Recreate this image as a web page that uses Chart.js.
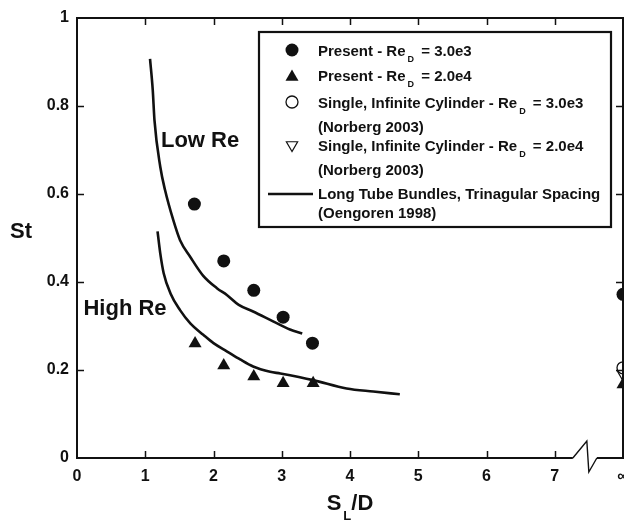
<!DOCTYPE html>
<html>
<head>
<meta charset="utf-8">
<script src="https://cdn.jsdelivr.net/npm/chart.js@4/dist/chart.umd.min.js"></script>
<style>
    html, body { margin: 0; padding: 0; background: #fff; }
    #wrap { width: 624px; height: 521px; }
</style>
</head>
<body>
<div id="wrap"><canvas id="chart" width="624" height="521"></canvas></div>
<script>
const FONT = "Arial, 'Liberation Sans', Helvetica, sans-serif";
const INK = '#111';

// tick labels (∞ is drawn at x = 8)
const xTickLabels = ['0', '1', '2', '3', '4', '5', '6', '7', '∞'];
const yTickLabels = ['0', '0.2', '0.4', '0.6', '0.8', '1'];

// present measurements, Re_D = 3.0e3 (last point = single cylinder at ∞)
const presentLowX = [1.72, 2.15, 2.59, 3.02, 3.45, 8];
const presentLowSt = [0.577, 0.448, 0.381, 0.320, 0.261, 0.372];

// present measurements, Re_D = 2.0e4
const presentHighX = [1.73, 2.15, 2.59, 3.02, 3.46, 8];
const presentHighSt = [0.26, 0.21, 0.185, 0.17, 0.17, 0.167];

// Norberg 2003, single infinite cylinder
const norbergLowX = [8];
const norbergLowSt = [0.205];
const norbergHighX = [8];
const norbergHighSt = [0.19];

// Oengoren 1998, long tube bundles (low Re curve)
const bundleLowX = [1.07, 1.11, 1.135, 1.22, 1.29, 1.41, 1.51, 1.66, 1.85, 2.05, 2.2, 2.37, 2.58, 2.88, 3.12, 3.3];
const bundleLowSt = [0.907, 0.836, 0.768, 0.662, 0.609, 0.541, 0.495, 0.457, 0.414, 0.386, 0.37, 0.348, 0.333, 0.31, 0.292, 0.283];

// Oengoren 1998, long tube bundles (high Re curve)
const bundleHighX = [1.18, 1.22, 1.27, 1.37, 1.51, 1.66, 1.85, 2.0, 2.2, 2.39, 2.58, 2.83, 2.98, 3.46, 3.95, 4.34, 4.73];
const bundleHighSt = [0.515, 0.465, 0.42, 0.374, 0.336, 0.306, 0.28, 0.261, 0.242, 0.224, 0.208, 0.196, 0.192, 0.177, 0.158, 0.151, 0.145];

const toPoints = (xs, ys) => xs.map((x, i) => ({ x: x, y: ys[i] }));

/** text with "_X" subscripts */
function drawSubText(ctx, text, x, y, o) {
    const parts = text.split(/_(\w)/);
    let cx = x;
    parts.forEach((p, i) => {
        if (i % 2 === 0) {
            ctx.font = `bold ${o.size}px ${FONT}`;
            ctx.fillText(p, cx, y);
            cx += ctx.measureText(p).width;
        } else {
            ctx.font = `bold ${o.subSize}px ${FONT}`;
            cx += o.gapBefore;
            ctx.fillText(p, cx, y + o.subDrop);
            cx += ctx.measureText(p).width + o.gapAfter;
        }
    });
    return cx - x;
}

function drawMarker(ctx, ds, x, y) {
    ctx.save();
    ctx.fillStyle = ds.backgroundColor;
    ctx.strokeStyle = ds.borderColor;
    ctx.lineWidth = ds.borderWidth || 0;
    if (ds.showLine) {
        ctx.lineWidth = ds.borderWidth;
        ctx.beginPath();
        ctx.moveTo(x - 24, y);
        ctx.lineTo(x + 21, y);
        ctx.stroke();
    } else {
        Chart.helpers.drawPoint(ctx, {
            pointStyle: ds.pointStyle,
            radius: ds.pointRadius,
            rotation: ds.rotation || 0,
            borderWidth: ds.borderWidth || 0,
        }, x, y);
    }
    ctx.restore();
}

/** frame with inward ticks, axis break and titles */
const framePlugin = {
    id: 'frame',
    afterDatasetsDraw(chart, args, opts) {
        const { ctx, chartArea: a, scales: { x, y } } = chart;
        ctx.save();
        ctx.strokeStyle = INK;
        ctx.lineCap = 'butt';
        ctx.lineJoin = 'miter';

        // inward ticks
        ctx.lineWidth = 1.5;
        ctx.beginPath();
        x.ticks.forEach(t => {
            if (t.value <= 0 || t.value >= 8) return;
            const px = Math.round(x.getPixelForValue(t.value)) + 0.5;
            ctx.moveTo(px, a.bottom); ctx.lineTo(px, a.bottom - 7);
            ctx.moveTo(px, a.top); ctx.lineTo(px, a.top + 7);
        });
        y.ticks.forEach(t => {
            if (t.value <= 0 || t.value >= 1) return;
            const py = Math.round(y.getPixelForValue(t.value)) + 0.5;
            ctx.moveTo(a.left, py); ctx.lineTo(a.left + 7, py);
            ctx.moveTo(a.right, py); ctx.lineTo(a.right - 7, py);
        });
        ctx.stroke();

        // box, bottom edge broken before ∞
        const b0 = x.getPixelForValue(opts.breakFrom);
        const b1 = x.getPixelForValue(opts.breakTo);
        ctx.lineWidth = 2;
        ctx.beginPath();
        ctx.moveTo(b0, a.bottom);
        ctx.lineTo(a.left, a.bottom);
        ctx.lineTo(a.left, a.top);
        ctx.lineTo(a.right, a.top);
        ctx.lineTo(a.right, a.bottom);
        ctx.lineTo(b1, a.bottom);
        ctx.stroke();
        ctx.lineWidth = 1.4;
        ctx.beginPath();
        ctx.moveTo(b0, a.bottom);
        ctx.lineTo(b0 + 14, a.bottom - 17);
        ctx.lineTo(b0 + 16, a.bottom + 14);
        ctx.lineTo(b1, a.bottom);
        ctx.stroke();

        // curve labels
        ctx.fillStyle = INK;
        ctx.textBaseline = 'alphabetic';
        ctx.font = `bold 22px ${FONT}`;
        opts.notes.forEach(n => {
            ctx.fillText(n.text, x.getPixelForValue(n.x), y.getPixelForValue(n.y));
        });

        // axis titles
        ctx.fillText('St', 10, 238);
        const tOpt = { size: 22, subSize: 13, subDrop: 10, gapBefore: 2, gapAfter: 0 };
        const off = document.createElement('canvas').getContext('2d');
        const w = drawSubText(off, 'S_L/D', 0, 0, tOpt);
        drawSubText(ctx, 'S_L/D', (a.left + a.right) / 2 - w / 2, 510, tOpt);
        ctx.restore();
    },
};

/** boxed legend built from dataset labels */
const boxLegend = {
    id: 'boxLegend',
    afterDraw(chart, args, opts) {
        const { ctx } = chart;
        const b = opts.box;
        ctx.save();
        ctx.fillStyle = '#fff';
        ctx.fillRect(b.left, b.top, b.right - b.left, b.bottom - b.top);
        ctx.strokeStyle = INK;
        ctx.lineWidth = 2.2;
        ctx.strokeRect(b.left, b.top, b.right - b.left, b.bottom - b.top);

        const tOpt = { size: 15, subSize: 9, subDrop: 6, gapBefore: 2, gapAfter: 3 };
        let row = 0;
        chart.data.datasets.forEach(ds => {
            if (ds.noLegend) return;
            const lines = ds.label.split('\n');
            drawMarker(ctx, ds, opts.markerX, opts.markerY[row]);
            ctx.fillStyle = INK;
            ctx.textBaseline = 'alphabetic';
            lines.forEach((ln, k) => {
                drawSubText(ctx, ln, opts.textX, opts.baselines[row][k], tOpt);
            });
            row++;
        });
        ctx.restore();
    },
};

new Chart(document.getElementById('chart'), {
    type: 'scatter',
    data: {
        datasets: [
            {
                label: 'Present - Re_D = 3.0e3',
                data: toPoints(presentLowX, presentLowSt),
                pointStyle: 'circle',
                pointRadius: 6.5,
                backgroundColor: INK,
                borderColor: INK,
                borderWidth: 0,
                clip: 0,
            },
            {
                label: 'Present - Re_D = 2.0e4',
                data: toPoints(presentHighX, presentHighSt),
                pointStyle: 'triangle',
                pointRadius: 7.5,
                backgroundColor: INK,
                borderColor: INK,
                borderWidth: 0,
                clip: 0,
            },
            {
                label: 'Single, Infinite Cylinder - Re_D = 3.0e3\n(Norberg 2003)',
                data: toPoints(norbergLowX, norbergLowSt),
                pointStyle: 'circle',
                pointRadius: 6,
                backgroundColor: '#fff',
                borderColor: INK,
                borderWidth: 1.3,
                clip: 0,
            },
            {
                label: 'Single, Infinite Cylinder - Re_D = 2.0e4\n(Norberg 2003)',
                data: toPoints(norbergHighX, norbergHighSt),
                pointStyle: 'triangle',
                rotation: 180,
                pointRotation: 180,
                pointRadius: 6.5,
                backgroundColor: '#fff',
                borderColor: INK,
                borderWidth: 1.2,
                clip: 0,
            },
            {
                label: 'Long Tube Bundles, Trinagular Spacing\n(Oengoren 1998)',
                data: toPoints(bundleLowX, bundleLowSt),
                showLine: true,
                pointRadius: 0,
                borderColor: INK,
                backgroundColor: INK,
                borderWidth: 2.6,
                cubicInterpolationMode: 'monotone',
            },
            {
                label: 'Long Tube Bundles, Trinagular Spacing\n(Oengoren 1998)',
                noLegend: true,
                data: toPoints(bundleHighX, bundleHighSt),
                showLine: true,
                pointRadius: 0,
                borderColor: INK,
                backgroundColor: INK,
                borderWidth: 2.6,
                cubicInterpolationMode: 'monotone',
            },
        ],
    },
    options: {
        responsive: false,
        animation: false,
        devicePixelRatio: 1,
        layout: { autoPadding: false, padding: { top: 18, right: 1, bottom: 0, left: 0 } },
        scales: {
            x: {
                type: 'linear',
                min: 0,
                max: 8,
                grid: { display: false, drawTicks: false },
                border: { display: false },
                ticks: {
                    stepSize: 1,
                    autoSkip: false,
                    maxRotation: 0,
                    padding: 9,
                    color: INK,
                    font: { family: FONT, size: 16, weight: 'bold' },
                    callback: (v, i) => xTickLabels[i],
                },
                afterFit(s) {
                    s.height = 63;
                    s.paddingLeft = 0;
                    s.paddingRight = 0;
                },
            },
            y: {
                type: 'linear',
                min: 0,
                max: 1,
                grid: { display: false, drawTicks: false },
                border: { display: false },
                ticks: {
                    stepSize: 0.2,
                    padding: 8,
                    color: INK,
                    font: { family: FONT, size: 16, weight: 'bold' },
                    callback: (v, i) => yTickLabels[i],
                },
                afterFit(s) {
                    s.width = 77;
                    s.paddingTop = 0;
                    s.paddingBottom = 0;
                },
            },
        },
        plugins: {
            legend: { display: false },
            tooltip: { enabled: false },
            frame: {
                breakFrom: 7.265,
                breakTo: 7.617,
                notes: [
                    { text: 'Low Re', x: 1.23, y: 0.706 },
                    { text: 'High Re', x: 0.095, y: 0.324 },
                ],
            },
            boxLegend: {
                box: { left: 259, top: 32, right: 611, bottom: 227 },
                markerX: 292,
                textX: 318,
                markerY: [50, 77, 102, 145, 194],
                baselines: [[56], [81], [108, 132], [151, 175], [199, 218]],
            },
        },
    },
    plugins: [framePlugin, boxLegend],
});
</script>
</body>
</html>
